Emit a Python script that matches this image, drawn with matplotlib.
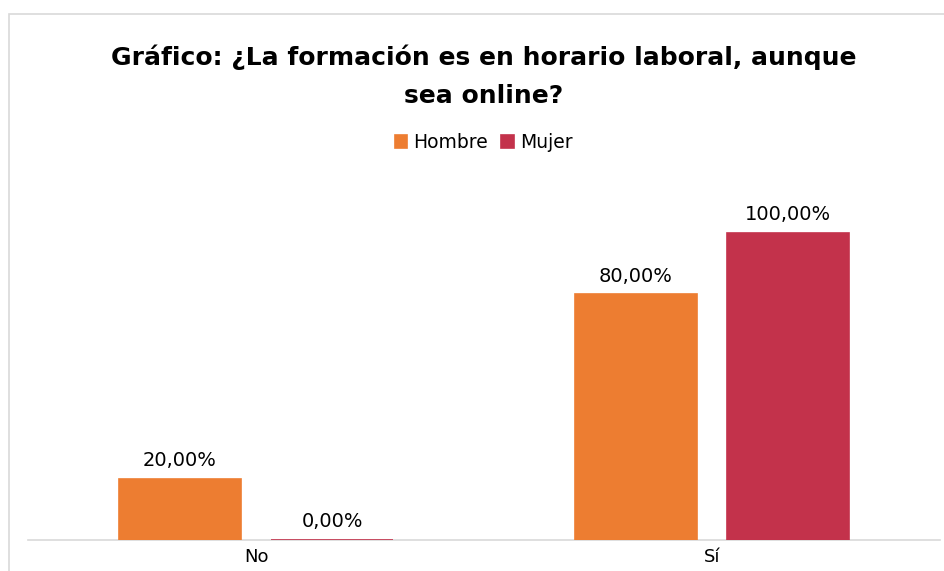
import matplotlib.pyplot as plt
from matplotlib.patches import Rectangle
import numpy as np

# Data
categories = ['No', 'Sí']
series_names = ['Hombre', 'Mujer']
hombre = [0.20, 0.80]
mujer = [0.00, 1.00]
colors = ['#ED7D31', '#C3324B']

plt.rcParams['font.family'] = ['DejaVu Sans']

fig = plt.figure(figsize=(9.44, 5.71), dpi=100)
ax = fig.add_axes([0.0297, 0.0543, 0.966, 0.6452])

x = np.arange(len(categories))
width = 0.2675
offset = 0.1667

bars = []
for vals, name, col, sign in zip([hombre, mujer], series_names, colors, [-1, 1]):
    b = ax.bar(x + sign * offset, vals, width, color=col, label=name,
               edgecolor=col, linewidth=1.2, zorder=3)
    bars.append(b)
    for xi, v in zip(x, vals):
        ax.text(xi + sign * offset, v + 0.028, f'{v*100:.2f}%'.replace('.', ','),
                ha='center', va='bottom', fontsize=14)

ax.set_xlim(-0.5, 1.5)
ax.set_ylim(0, 1.2)
ax.set_xticks(x)
ax.set_xticklabels(categories, fontsize=13)
ax.tick_params(axis='x', length=0, pad=6)
ax.set_yticks([])
for s in ['top', 'left', 'right']:
    ax.spines[s].set_visible(False)
ax.spines['bottom'].set_color('#d9d9d9')
ax.spines['bottom'].set_linewidth(1.2)

# Title
fig.text(0.5125, 0.867, 'Gráfico: ¿La formación es en horario laboral, aunque\nsea online?',
         ha='center', va='center', fontsize=18, fontweight='bold', linespacing=1.72)

# Legend
fig.legend(handles=bars, labels=series_names, loc='center', bbox_to_anchor=(0.5125, 0.75),
           ncol=2, frameon=False, fontsize=13.5, handlelength=0.65, handleheight=0.65,
           handletextpad=0.35, columnspacing=0.7)

# Chart border
fig.patches.append(Rectangle((9 / 944, -0.1), 1.2, 1 - 14 / 571 + 0.1,
                             transform=fig.transFigure, fill=False,
                             edgecolor='#d9d9d9', linewidth=1.2))

fig.savefig('out.png', dpi=100)
